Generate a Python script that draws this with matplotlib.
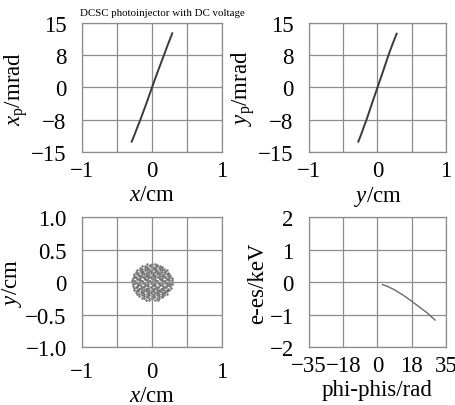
import numpy as np
import matplotlib
matplotlib.use("Agg")
import matplotlib.pyplot as plt

plt.rcParams['font.family'] = ['Liberation Serif', 'DejaVu Serif']
plt.rcParams['mathtext.fontset'] = 'custom'
plt.rcParams['mathtext.rm'] = 'Liberation Serif'
plt.rcParams['mathtext.it'] = 'Liberation Serif:italic'

MINUS = '\u2212'

# x - xp phase space (cm, mrad)
xxp_x = [-0.29, -0.25, -0.21, -0.166, -0.08, 0.0, 0.08, 0.17, 0.23, 0.29]
xxp_p = [-12.6, -11.0, -9.3, -7.5, -3.7, 0.0, 3.6, 7.5, 10.1, 12.6]

# y - yp phase space (cm, mrad)
yyp_y = [-0.28, -0.24, -0.20, -0.16, -0.08, 0.0, 0.08, 0.16, 0.22, 0.28]
yyp_p = [-12.6, -11.0, -9.2, -7.5, -3.7, 0.0, 3.7, 7.5, 10.1, 12.5]

# longitudinal phase space (rad, keV)
phase = [2.5, 5.0, 9.0, 13.0, 17.0, 21.0, 25.0, 29.4]
energy = [-0.08, -0.13, -0.25, -0.40, -0.57, -0.75, -0.93, -1.17]

# transverse beam spot, particle positions in 1/100 cm
cloud_x = [
    -7, -3, 0, 4, 7,
    -14, -10, -7, -3, 0, 4, 7, 11, 14,
    -17, -14, -10, -7, -4, 0, 3, 6, 10, 13, 17,
    -21, -17, -14, -10, -7, -3, 0, 4, 7, 11, 14, 18, 21,
    -23, -20, -16, -13, -9, -6, -2, 1, 5, 8, 12, 15, 19, 23,
    -25, -21, -18, -14, -11, -7, -4, 0, 3, 7, 10, 14, 17, 21, 25,
    -26, -23, -19, -16, -12, -9, -5, -2, 2, 5, 9, 12, 16, 19, 23, 26,
    -27, -24, -20, -17, -13, -10, -6, -3, 1, 4, 8, 11, 15, 18, 22, 25, 28,
    -28, -24, -21, -17, -14, -10, -7, -3, 0, 4, 7, 11, 14, 18, 21, 25, 28,
    -28, -25, -21, -18, -14, -11, -7, -4, 0, 3, 7, 10, 14, 17, 21, 24, 28,
    -27, -24, -20, -17, -13, -10, -6, -2, 1, 5, 8, 12, 15, 19, 22, 26, 29,
    -27, -23, -20, -16, -13, -9, -6, -2, 2, 5, 9, 12, 16, 19, 23, 26,
    -26, -22, -19, -15, -12, -8, -5, -1, 2, 6, 9, 13, 16, 20, 23, 27,
    -25, -21, -18, -14, -11, -7, -4, 0, 3, 7, 10, 14, 17, 21, 25,
    -23, -20, -16, -13, -9, -6, -2, 1, 5, 8, 12, 15, 19, 22,
    -21, -18, -14, -11, -7, -4, 0, 3, 7, 10, 14, 17, 21,
    -18, -14, -11, -7, -4, 0, 3, 7, 10, 14, 17,
    -14, -11, -7, -4, 0, 3, 7, 10, 14,
    -8, -4, 0, 4, 8,
]
cloud_y = [
    27, 26, 28, 27, 26,
    24, 25, 23, 24, 25, 23, 24, 25, 23,
    21, 20, 22, 21, 20, 22, 21, 20, 22, 21, 20,
    18, 19, 17, 18, 19, 17, 18, 19, 17, 18, 19, 17, 18,
    15, 14, 16, 15, 14, 16, 15, 14, 16, 15, 14, 16, 15, 14,
    12, 13, 11, 12, 13, 11, 12, 13, 11, 12, 13, 11, 12, 13, 12,
    9, 8, 10, 9, 8, 10, 9, 8, 10, 9, 8, 10, 9, 8, 10, 9,
    6, 7, 5, 6, 7, 5, 6, 7, 5, 6, 7, 5, 6, 7, 5, 6, 6,
    3, 2, 4, 3, 2, 4, 3, 2, 4, 3, 2, 4, 3, 2, 4, 3, 3,
    0, 1, -1, 0, 1, -1, 0, 1, -1, 0, 1, -1, 0, 1, -1, 0, 0,
    -3, -2, -4, -3, -2, -4, -3, -2, -4, -3, -2, -4, -3, -2, -4, -3, -3,
    -6, -7, -5, -6, -7, -5, -6, -7, -5, -6, -7, -5, -6, -7, -5, -6,
    -9, -8, -10, -9, -8, -10, -9, -8, -10, -9, -8, -10, -9, -8, -10, -9,
    -12, -13, -11, -12, -13, -11, -12, -13, -11, -12, -13, -11, -12, -13, -12,
    -15, -14, -16, -15, -14, -16, -15, -14, -16, -15, -14, -16, -15, -14,
    -18, -19, -17, -18, -19, -17, -18, -19, -17, -18, -19, -17, -18,
    -21, -20, -22, -21, -20, -22, -21, -20, -22, -21, -20,
    -24, -25, -23, -24, -25, -23, -24, -25, -23,
    -27, -28, -26, -27, -28,
]

tick_1 = [MINUS + '1', '0', '1']
tick_15 = [MINUS + '15', MINUS + '8', '0', '8', '15']
tick_10 = [MINUS + '1.0', MINUS + '0.5', '0', '0.5', '1.0']
tick_2 = [MINUS + '2', MINUS + '1', '0', '1', '2']
tick_35 = [MINUS + '35', MINUS + '18', '0', '18', '35']

fs = 16.5
grid_col = '#8c8c8c'


def style_axes(ax, xlim, ylim, xlabels, ylabels, xlabel, ylabel, xpad=6):
    ax.set_xlim(xlim)
    ax.set_ylim(ylim)
    xt = np.linspace(xlim[0], xlim[1], 5)
    yt = np.linspace(ylim[0], ylim[1], 5)
    ax.set_xticks(xt)
    ax.set_yticks(yt)
    if len(xlabels) == 3:
        ax.set_xticklabels([xlabels[0], '', xlabels[1], '', xlabels[2]])
    else:
        ax.set_xticklabels(xlabels)
    ax.set_yticklabels(ylabels)
    ax.tick_params(length=0, labelsize=fs)
    ax.tick_params(axis='y', pad=11)
    ax.tick_params(axis='x', pad=xpad)
    ax.grid(True, color=grid_col, linewidth=0.9)
    for s in ax.spines.values():
        s.set_color(grid_col)
        s.set_linewidth(0.9)
    ax.set_xlabel(xlabel, fontsize=fs, labelpad=2)
    ax.set_ylabel(ylabel, fontsize=fs, labelpad=1)


fig = plt.figure(figsize=(4.56, 4.06), dpi=100)

ax1 = fig.add_axes([0.1798, 0.6232, 0.307, 0.3177])
ax2 = fig.add_axes([0.6776, 0.6232, 0.3004, 0.3177])
ax3 = fig.add_axes([0.1798, 0.1429, 0.307, 0.3200])
ax4 = fig.add_axes([0.6776, 0.1429, 0.3004, 0.3200])

ax1.plot(xxp_x, xxp_p, color='#3a3a3a', linewidth=1.4)
style_axes(ax1, (-1, 1), (-15, 15), tick_1, tick_15,
           r'$x$/cm', r'$x_{\rm p}$/mrad')

ax2.plot(yyp_y, yyp_p, color='#3a3a3a', linewidth=1.4)
style_axes(ax2, (-1, 1), (-15, 15), tick_1, tick_15,
           r'$y$/cm', r'$y_{\rm p}$/mrad')

ax3.scatter(np.array(cloud_x) / 100.0, np.array(cloud_y) / 100.0,
            s=3.2, color='#707070', linewidths=0)
style_axes(ax3, (-1, 1), (-1, 1), tick_1, tick_10,
           r'$x$/cm', r'$y$/cm', xpad=10)

ax4.plot(phase, energy, color='#6a6a6a', linewidth=1.0)
style_axes(ax4, (-35, 35), (-2, 2), tick_35, tick_2,
           'phi-phis/rad', 'e-es/keV')

fig.text(0.356, 0.967, 'DCSC photoinjector with DC voltage',
         fontsize=7.8, ha='center', va='center')

fig.savefig('out.png', dpi=100)
